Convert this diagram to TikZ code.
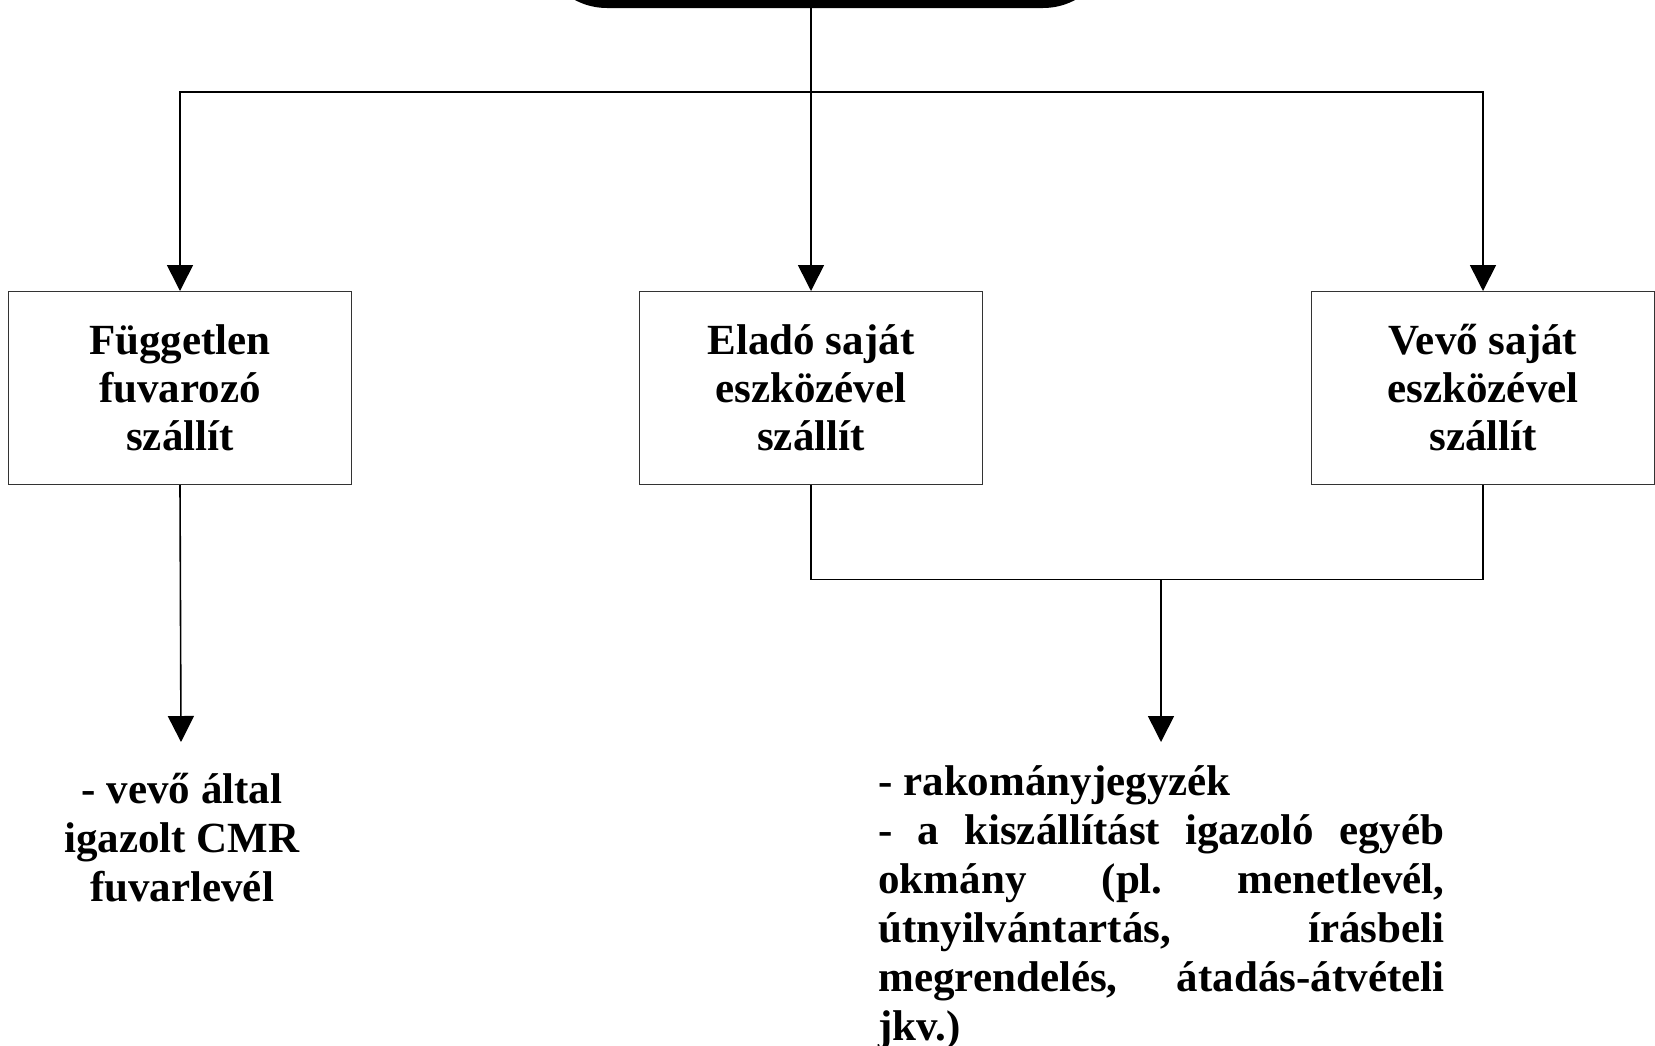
\documentclass[tikz,border=0pt]{standalone}
\usepackage{fontspec}
\setmainfont{Liberation Serif}
\usetikzlibrary{arrows.meta}
\begin{document}
\begin{tikzpicture}[x=0.5pt,y=-0.5pt,
  box/.style={draw=black!80, line width=0.5pt, minimum width=171.5pt, minimum height=96.5pt,
    align=center, inner sep=0pt, font=\bfseries\fontsize{21.5pt}{24pt}\selectfont},
  conn/.style={line width=0.8pt},
  arr/.style={conn, -{Triangle[length=13pt,width=13pt]}},
  txt/.style={inner sep=0pt, font=\bfseries\fontsize{21.5pt}{24.5pt}\selectfont\frenchspacing}]
\useasboundingbox (0,0) rectangle (1655,1045);
\clip (0,0) rectangle (1655,1045);
\fill[white] (0,0) rectangle (1655,1045);
% top black shape (cut by the page edge)
\node[fill=black, rounded corners=34pt, minimum width=286pt, minimum height=100pt, inner sep=0pt] (top) at (825,-92) {};
% boxes
\node[box] (left) at (180,388) {Független\\fuvarozó\\szállít};
\node[box] (mid) at (811,388) {Eladó saját\\eszközével\\szállít};
\node[box] (right) at (1483,388) {Vevő saját\\eszközével\\szállít};
% coordinates
\coordinate (j) at (811,92);
\coordinate (k) at (1161,579.5);
\coordinate (lend) at (181,742);
\coordinate (rend) at (1161,742);
% connectors
\draw[arr] (mid.north |- top.south) -- (mid.north);
\draw[arr] (j) -| (left.north);
\draw[arr] (j) -| (right.north);
\draw[arr] (left.south) -- (lend);
\draw[conn] (mid.south) |- (k) -| (right.south);
\draw[arr] (k) -- (rend);
% texts
\node[txt, align=center, anchor=center] (ltext) at (182,838) {- vevő által\\igazolt CMR\\fuvarlevél};
\node[txt, align=left, anchor=north west] (rtext) at (878,765) {%
- rakományjegyzék\\
\makebox[283pt][s]{- a kiszállítást igazoló egyéb}\\
\makebox[283pt][s]{okmány (pl. menetlevél,}\\
\makebox[283pt][s]{útnyilvántartás, írásbeli}\\
\makebox[283pt][s]{megrendelés, átadás-átvételi}\\
jkv.)};
\end{tikzpicture}
\end{document}
